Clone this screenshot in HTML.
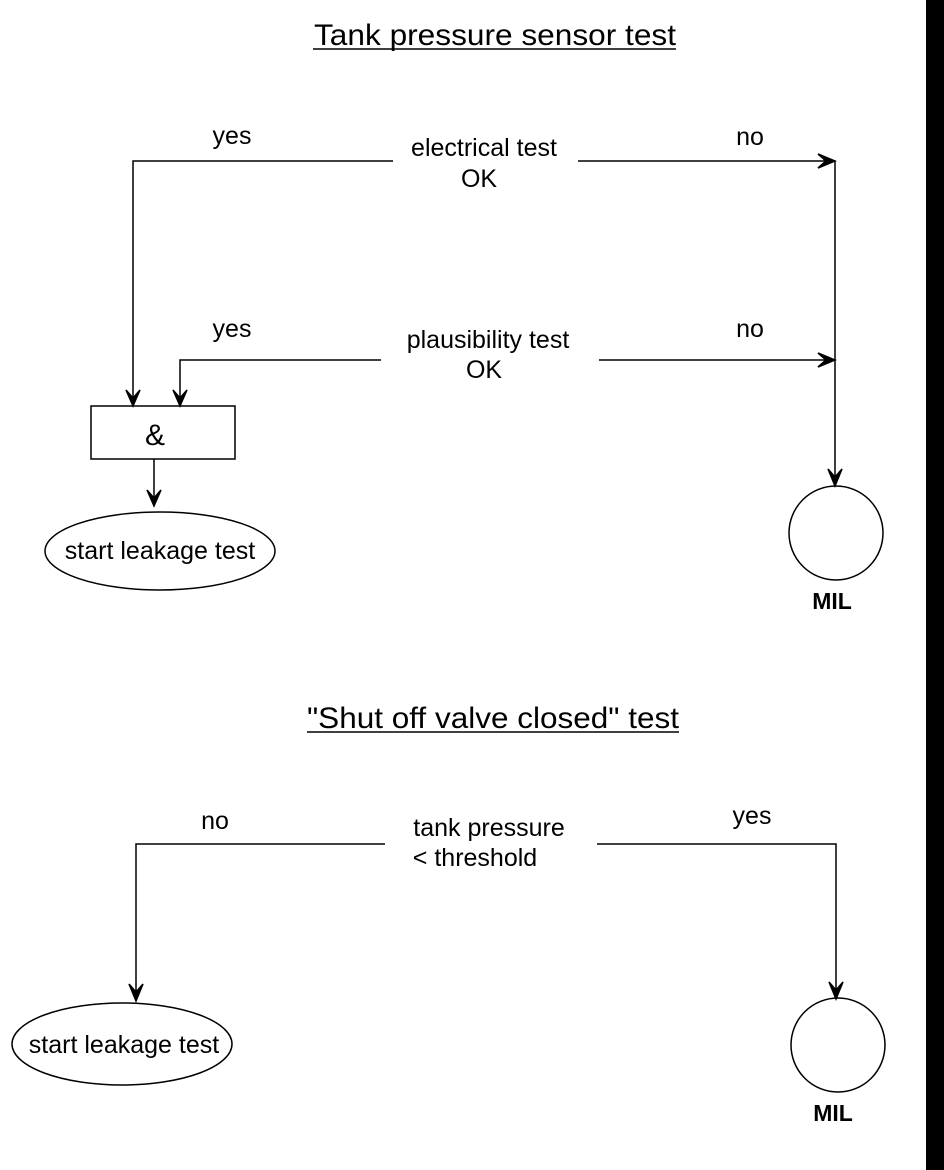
<!DOCTYPE html>
<html><head><style>
html,body{margin:0;padding:0;background:#fff;}
svg{display:block;}
text{font-family:"Liberation Sans",Arial,sans-serif;fill:#000;}
</style></head><body>
<svg width="944" height="1170" viewBox="0 0 944 1170" xmlns="http://www.w3.org/2000/svg">
<rect x="926" y="0" width="18" height="1170" fill="#000"/>
<g font-size="30" text-anchor="middle">
<text x="495" y="45" textLength="362" lengthAdjust="spacingAndGlyphs">Tank pressure sensor test</text>
<line x1="313" y1="49" x2="676" y2="49" stroke="#000" stroke-width="1.5"/>
<text x="493" y="728" textLength="372" lengthAdjust="spacingAndGlyphs">"Shut off valve closed" test</text>
<line x1="307" y1="732" x2="679" y2="732" stroke="#000" stroke-width="1.5"/>
</g>
<g stroke="#000" stroke-width="1.5" fill="none">
<polyline points="393,161 133,161 133,405"/>
<line x1="578" y1="161" x2="835" y2="161"/>
<line x1="835" y1="161" x2="835" y2="485"/>
<polyline points="381,360 180,360 180,405"/>
<line x1="599" y1="360" x2="835" y2="360"/>
<rect x="91" y="406" width="144" height="53"/>
<line x1="154" y1="459" x2="154" y2="505"/>
<ellipse cx="160" cy="551" rx="115" ry="39"/>
<circle cx="836" cy="533" r="47"/>
<polyline points="385,844 136,844 136,1000"/>
<polyline points="597,844 836,844 836,998"/>
<ellipse cx="122" cy="1044" rx="110" ry="41"/>
<circle cx="838" cy="1045" r="47"/>
</g>
<g stroke="#000" stroke-width="1.5" fill="#000">
<polygon points="126,390 133,406 140,390 133,398"/>
<polygon points="173,390 180,406 187,390 180,398"/>
<polygon points="147,490 154,506 161,490 154,498"/>
<polygon points="818,154 835,161 818,168 826,161"/>
<polygon points="818,353 835,360 818,367 826,360"/>
<polygon points="828,469 835,486 842,469 835,477"/>
<polygon points="129,984 136,1001 143,984 136,992"/>
<polygon points="829,982 836,999 843,982 836,990"/>
</g>
<g font-size="25" text-anchor="middle">
<text x="232" y="144">yes</text>
<text x="750" y="145">no</text>
<text x="484" y="156">electrical test</text>
<text x="479" y="187">OK</text>
<text x="232" y="337">yes</text>
<text x="750" y="337">no</text>
<text x="488" y="348">plausibility test</text>
<text x="484" y="378">OK</text>
<text x="155" y="445" font-size="30">&amp;</text>
<text x="160" y="559">start leakage test</text>
<text x="832" y="609" font-weight="bold" font-size="23">MIL</text>
<text x="215" y="829">no</text>
<text x="752" y="824">yes</text>
<text x="489" y="836">tank pressure</text>
<text x="475" y="866">&lt; threshold</text>
<text x="124" y="1053">start leakage test</text>
<text x="833" y="1121" font-weight="bold" font-size="23">MIL</text>
</g>
</svg>
</body></html>
